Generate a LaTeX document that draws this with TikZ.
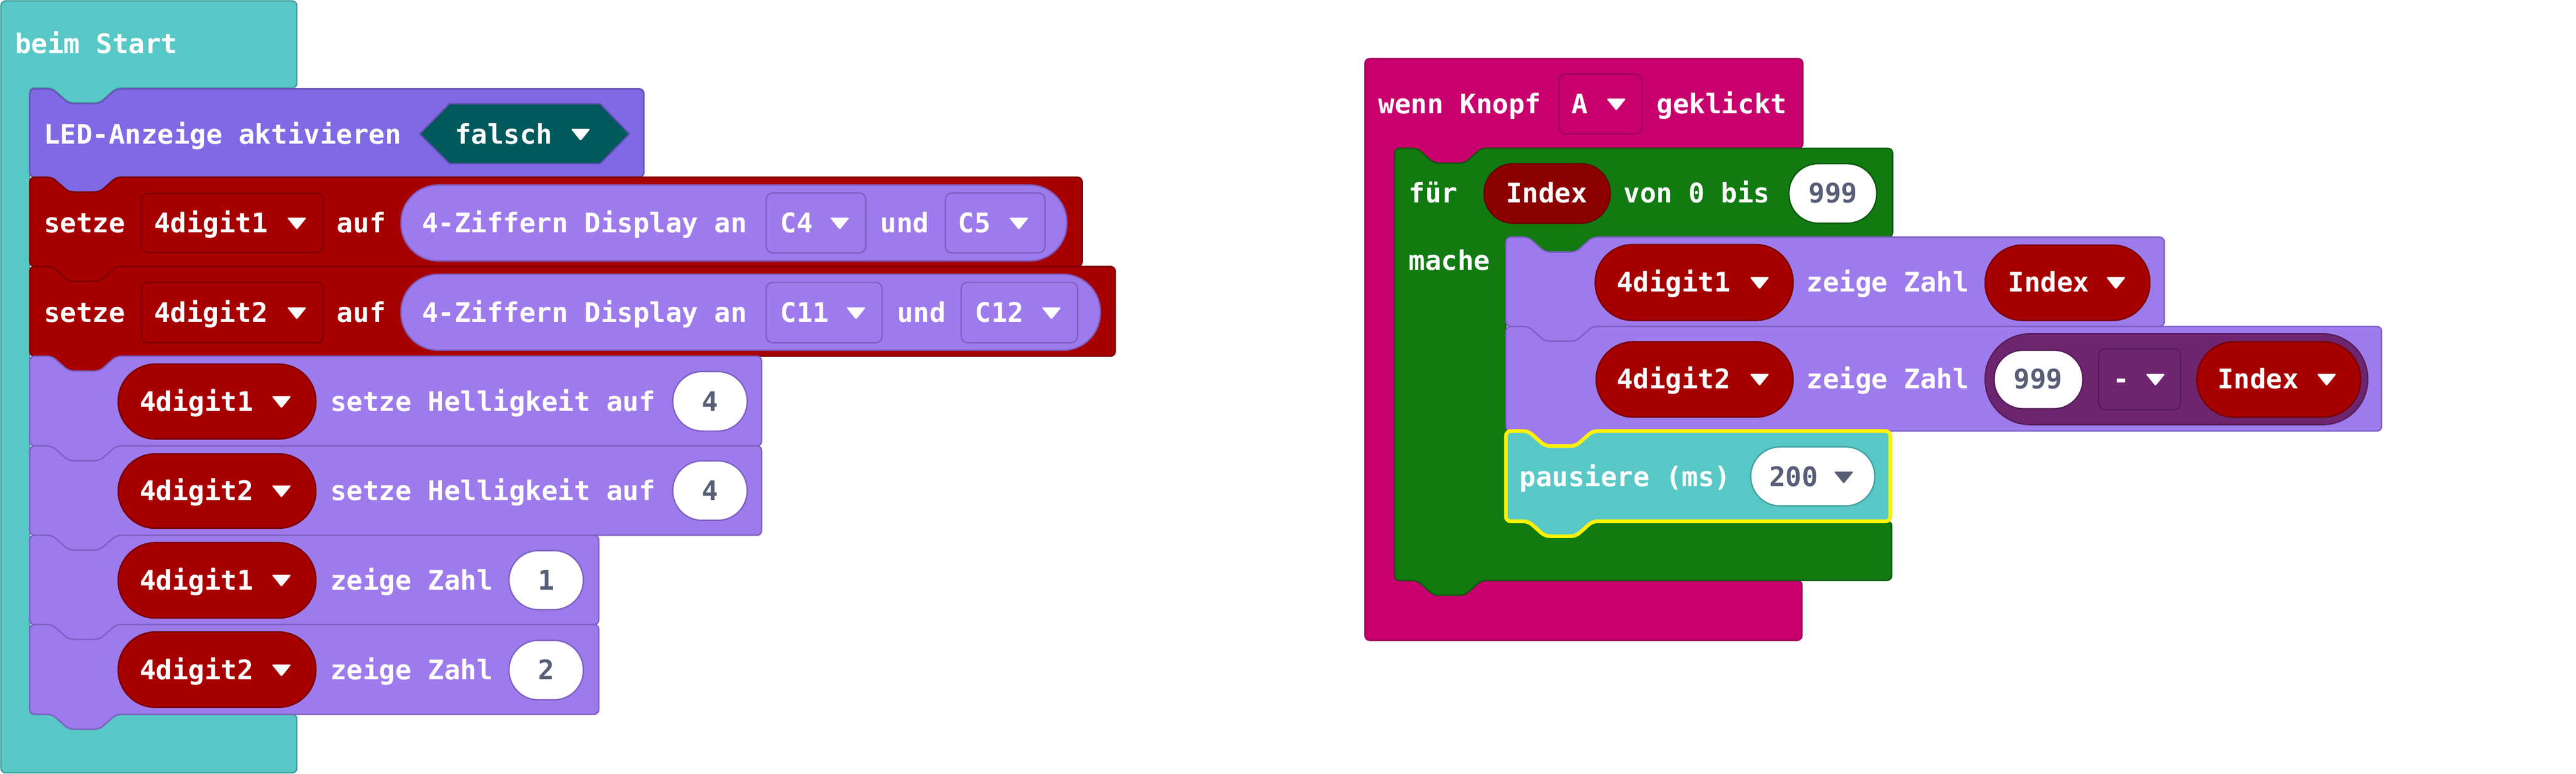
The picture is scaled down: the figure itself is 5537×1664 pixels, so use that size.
\documentclass[tikz,border=0pt]{standalone}
\usepackage{fontspec}
\newfontfamily\blkfont{DejaVu Sans Mono}
\definecolor{cTeal}{HTML}{58C8C7}
\definecolor{cTealD}{HTML}{43A09F}
\definecolor{cLED}{HTML}{8069E4}
\definecolor{cLEDD}{HTML}{6650B8}
\definecolor{cVio}{HTML}{9E7BEC}
\definecolor{cVioD}{HTML}{7D60C4}
\definecolor{cRed}{HTML}{A60000}
\definecolor{cRedD}{HTML}{7A0000}
\definecolor{cIdx}{HTML}{8C0000}
\definecolor{cIdxD}{HTML}{680000}
\definecolor{cGreen}{HTML}{117A11}
\definecolor{cGreenD}{HTML}{0C5A0C}
\definecolor{cMag}{HTML}{C8006D}
\definecolor{cMagD}{HTML}{9E0058}
\definecolor{cHex}{HTML}{00595B}
\definecolor{cMath}{HTML}{6E2570}
\definecolor{cMathD}{HTML}{561C58}
\definecolor{cGrey}{HTML}{575E75}
\definecolor{cYellow}{HTML}{FFF200}
\tikzset{
  blk/.style={line width=3pt, rounded corners=10pt, line join=round},
  txt/.style={inner sep=0pt, text=white, anchor=base west, font=\blkfont\bfseries\fontsize{58}{60}\selectfont},
  num/.style={inner sep=0pt, text=cGrey, anchor=base, font=\blkfont\bfseries\fontsize{58}{60}\selectfont},
  ddbox/.style={line width=3pt, rounded corners=14pt},
}
\newcommand\stackblk[5]{\draw[blk,#1] (#2,{(#3+#5)/2}) -- (#2,#3) -- ({#2+48},#3) -- ({#2+84},{#3+32}) -- ({#2+150},{#3+32}) -- ({#2+186},#3) -- (#4,#3) -- (#4,#5) -- ({#2+186},#5) -- ({#2+150},{#5+32}) -- ({#2+84},{#5+32}) -- ({#2+48},#5) -- (#2,#5) -- cycle;}
\newcommand\pill[6]{\draw[line width=3pt, rounded corners=#6pt, #1] (#2,#3) rectangle (#4,#5);}
\newcommand\ddarrow[3]{\fill[#3, rounded corners=3pt] ({#1-21},{#2-11}) -- ({#1+21},{#2-11}) -- (#1,{#2+15}) -- cycle;}
\begin{document}
\begin{tikzpicture}[x=1pt,y=-1pt]
\useasboundingbox (0,0) rectangle (5537,1664);
% ===== left stack: beim Start =====
\draw[blk, fill=cTeal, draw=cTealD] (2,100) -- (2,2) -- (638,2) -- (638,189) -- (250,189) -- (214,221) -- (148,221) -- (112,189) -- (64,189) -- (64,1536) -- (112,1536) -- (148,1568) -- (214,1568) -- (250,1536) -- (638,1536) -- (638,1662) -- (2,1662) -- cycle;
\node[txt] (start) at (32,115) {beim Start};
% LED block
\stackblk{fill=cLED,draw=cLEDD}{64}{191}{1384}{381}
\node[txt] (led) at (94,309) {LED-Anzeige aktivieren};
\draw[line width=3pt, fill=cHex, draw=cLEDD, line join=round] (902,288) -- (966,223) -- (1290,223) -- (1353,288) -- (1290,352) -- (966,352) -- cycle;
\node[txt] (falsch) at (978,309) {falsch};
\ddarrow{1248}{288}{white}
% setze 1
\stackblk{fill=cRed,draw=cRedD}{64}{381}{2326}{573}
\node[txt] (s1) at (94,500) {setze};
\draw[ddbox, fill=cRed, draw=cRedD] (304,416) rectangle (695,543);
\node[txt] (s1v) at (331,500) {4digit1};
\ddarrow{638}{479}{white}
\node[txt] (s1auf) at (724,500) {auf};
\pill{fill=cVio,draw=cVioD}{862}{398}{2293}{561}{80}
\node[txt] (s1d) at (907,500) {4-Ziffern Display an};
\draw[ddbox, fill=cVio, draw=cVioD] (1647,415) rectangle (1861,544);
\node[txt] (c4) at (1677,500) {C4};
\ddarrow{1805}{479}{white}
\node[txt] (s1und) at (1892,500) {und};
\draw[ddbox, fill=cVio, draw=cVioD] (2032,415) rectangle (2246,544);
\node[txt] (c5) at (2059,500) {C5};
\ddarrow{2190}{479}{white}
% setze 2
\stackblk{fill=cRed,draw=cRedD}{64}{573}{2397}{766}
\node[txt] (s2) at (94,693) {setze};
\draw[ddbox, fill=cRed, draw=cRedD] (304,607) rectangle (695,737);
\node[txt] (s2v) at (331,693) {4digit2};
\ddarrow{638}{672}{white}
\node[txt] (s2auf) at (724,693) {auf};
\pill{fill=cVio,draw=cVioD}{862}{590}{2365}{753}{80}
\node[txt] (s2d) at (907,693) {4-Ziffern Display an};
\draw[ddbox, fill=cVio, draw=cVioD] (1647,607) rectangle (1896,737);
\node[txt] (c11) at (1677,693) {C11};
\ddarrow{1840}{672}{white}
\node[txt] (s2und) at (1928,693) {und};
\draw[ddbox, fill=cVio, draw=cVioD] (2066,607) rectangle (2316,737);
\node[txt] (c12) at (2096,693) {C12};
\ddarrow{2260}{672}{white}
% Helligkeit 1
\stackblk{fill=cVio,draw=cVioD}{64}{766}{1637}{959}
\pill{fill=cRed,draw=cRedD}{254}{783}{679}{944}{80}
\node[txt] (h1v) at (300,884) {4digit1};
\ddarrow{605}{863}{white}
\node[txt] (h1t) at (710,884) {setze Helligkeit auf};
\pill{fill=white,draw=cVioD}{1446}{799}{1606}{927}{63}
\node[num] (h1n) at (1526,884) {4};
% Helligkeit 2
\stackblk{fill=cVio,draw=cVioD}{64}{959}{1637}{1151}
\pill{fill=cRed,draw=cRedD}{254}{976}{679}{1136}{80}
\node[txt] (h2v) at (300,1076) {4digit2};
\ddarrow{605}{1055}{white}
\node[txt] (h2t) at (710,1076) {setze Helligkeit auf};
\pill{fill=white,draw=cVioD}{1446}{991}{1606}{1119}{63}
\node[num] (h2n) at (1526,1076) {4};
% zeige Zahl 1
\stackblk{fill=cVio,draw=cVioD}{64}{1151}{1287}{1343}
\pill{fill=cRed,draw=cRedD}{254}{1167}{679}{1329}{80}
\node[txt] (z1v) at (300,1268) {4digit1};
\ddarrow{605}{1247}{white}
\node[txt] (z1t) at (710,1268) {zeige Zahl};
\pill{fill=white,draw=cVioD}{1094}{1184}{1254}{1311}{63}
\node[num] (z1n) at (1174,1268) {1};
% zeige Zahl 2
\stackblk{fill=cVio,draw=cVioD}{64}{1343}{1287}{1536}
\pill{fill=cRed,draw=cRedD}{254}{1359}{679}{1521}{80}
\node[txt] (z2v) at (300,1461) {4digit2};
\ddarrow{605}{1440}{white}
\node[txt] (z2t) at (710,1461) {zeige Zahl};
\pill{fill=white,draw=cVioD}{1094}{1377}{1254}{1505}{63}
\node[num] (z2n) at (1174,1461) {2};
% ===== right stack: wenn Knopf A geklickt =====
\draw[blk, fill=cMag, draw=cMagD] (2934,700) -- (2934,126) -- (3875,126) -- (3875,319) -- (3184,319) -- (3148,351) -- (3082,351) -- (3046,319) -- (2998,319) -- (2998,1248) -- (3046,1248) -- (3082,1280) -- (3148,1280) -- (3184,1248) -- (3873,1248) -- (3873,1377) -- (2934,1377) -- cycle;
\node[txt] (wenn) at (2963,244) {wenn Knopf};
\draw[ddbox, fill=cMag, draw=cMagD] (3351,159) rectangle (3529,288);
\node[txt] (knA) at (3378,244) {A};
\ddarrow{3474}{223}{white}
\node[txt] (gekl) at (3561,244) {geklickt};
% green loop
\draw[blk, fill=cGreen, draw=cGreenD] (2998,800) -- (2998,319) -- (3046,319) -- (3082,351) -- (3148,351) -- (3184,319) -- (4068,319) -- (4068,510) -- (3423,510) -- (3387,542) -- (3321,542) -- (3285,510) -- (3237,510) -- (3237,1121) -- (3285,1121) -- (3321,1153) -- (3387,1153) -- (3423,1121) -- (4066,1121) -- (4066,1248) -- (3184,1248) -- (3148,1280) -- (3082,1280) -- (3046,1248) -- (2998,1248) -- cycle;
\node[txt] (fuer) at (3028,436) {für};
\pill{fill=cIdx,draw=cIdxD}{3190}{352}{3461}{480}{63}
\node[txt] (idx0) at (3237,436) {Index};
\node[txt] (von) at (3490,436) {von 0 bis};
\pill{fill=white,draw=cGreenD}{3845}{352}{4034}{480}{63}
\node[num] (n999a) at (3940,436) {999};
\node[txt] (mache) at (3028,581) {mache};
% inner block 1
\stackblk{fill=cVio,draw=cVioD}{3237}{510}{4652}{702}
\pill{fill=cRed,draw=cRedD}{3429}{526}{3854}{689}{80}
\node[txt] (r1v) at (3475,627) {4digit1};
\ddarrow{3782}{607}{white}
\node[txt] (r1t) at (3883,627) {zeige Zahl};
\pill{fill=cRed,draw=cRedD}{4267}{527}{4621}{689}{80}
\node[txt] (r1i) at (4316,627) {Index};
\ddarrow{4548}{607}{white}
% inner block 2
\stackblk{fill=cVio,draw=cVioD}{3237}{702}{5119}{927}
\pill{fill=cRed,draw=cRedD}{3431}{735}{3854}{897}{80}
\node[txt] (r2v) at (3475,836) {4digit2};
\ddarrow{3782}{815}{white}
\node[txt] (r2t) at (3883,836) {zeige Zahl};
\pill{fill=cMath,draw=cMathD}{4267}{718}{5089}{913}{96}
\pill{fill=white,draw=cMathD}{4286}{753}{4477}{879}{62}
\node[num] (n999b) at (4381,836) {999};
\draw[ddbox, fill=cMath, draw=cMathD] (4511,750) rectangle (4687,881);
\node[txt, anchor=base] (minus) at (4559,836) {-};
\ddarrow{4633}{815}{white}
\pill{fill=cRed,draw=cRedD}{4722}{735}{5074}{897}{80}
\node[txt] (r2i) at (4766,836) {Index};
\ddarrow{5001}{815}{white}
% pausiere
\stackblk{fill=cTeal,draw=cYellow,line width=8pt}{3237}{927}{4063}{1121}
\node[txt] (paus) at (3266,1046) {pausiere (ms)};
\pill{fill=white,draw=cTealD}{3763}{961}{4030}{1088}{63}
\node[num, anchor=base west] (n200) at (3803,1046) {200};
\ddarrow{3963}{1025}{cGrey}
\end{tikzpicture}
\end{document}
